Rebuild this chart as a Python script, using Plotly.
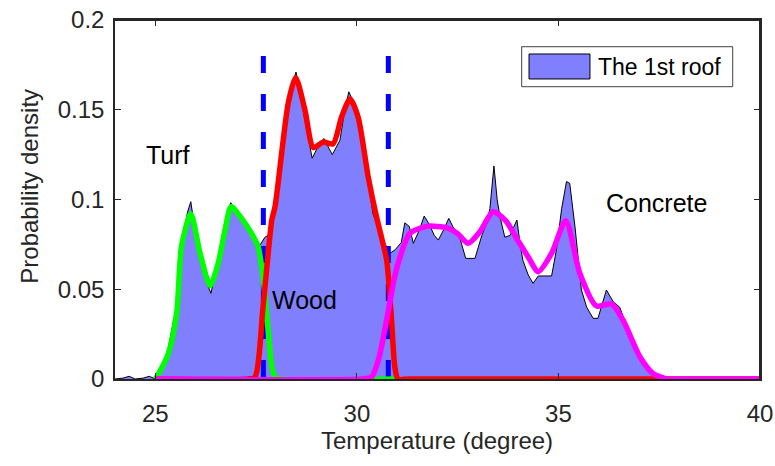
import plotly.graph_objects as go

# ---- data ----
hist_x = [24.0, 24.2, 24.35, 24.5, 24.7, 24.85, 25.0, 25.1, 25.3, 25.5, 25.65, 25.8, 25.88, 25.95,
          26.1, 26.25, 26.38, 26.5, 26.7, 26.87, 27.0, 27.2, 27.43, 27.6, 27.72, 27.8, 28.0, 28.2,
          28.35, 28.49, 28.6, 28.75, 28.89, 29.05, 29.18, 29.39, 29.5, 29.58, 29.7, 29.8, 29.9,
          30.05, 30.2, 30.4, 30.61, 30.73, 30.82, 30.95, 31.1, 31.19, 31.3, 31.4, 31.55, 31.67,
          31.8, 31.92, 32.02, 32.15, 32.28, 32.4, 32.51, 32.6, 32.7, 32.93, 33.1, 33.22, 33.3,
          33.4, 33.48, 33.55, 33.67, 33.8, 33.97, 34.05, 34.12, 34.25, 34.37, 34.5, 34.83, 34.95,
          35.08, 35.2, 35.28, 35.41, 35.57, 35.7, 35.86, 35.98, 36.1, 36.19, 36.36, 36.52, 36.65,
          36.77, 37.0, 37.27, 37.5, 37.8, 40.0]
hist_y = [0.0, 0.0005, 0.0015, 0.0, 0.0005, 0.0015, 0.0, 0.002, 0.015, 0.038, 0.075, 0.093, 0.0988, 0.088,
          0.068, 0.055, 0.0477, 0.060, 0.085, 0.0982, 0.094, 0.087, 0.0784, 0.0747, 0.079, 0.080, 0.098, 0.135,
          0.160, 0.171, 0.158, 0.140, 0.123, 0.130, 0.134, 0.125, 0.130, 0.133, 0.150, 0.160, 0.155,
          0.140, 0.122, 0.092, 0.079, 0.074, 0.070, 0.072, 0.076, 0.087, 0.085, 0.0756, 0.083, 0.0908,
          0.086, 0.080, 0.0774, 0.083, 0.0895, 0.084, 0.082, 0.075, 0.0672, 0.0672, 0.080, 0.0867, 0.095,
          0.1187, 0.100, 0.0904, 0.079, 0.080, 0.0886, 0.075, 0.066, 0.058, 0.0533, 0.0574, 0.0574, 0.0719,
          0.095, 0.110, 0.109, 0.0849, 0.0496, 0.040, 0.0338, 0.0338, 0.043, 0.0496, 0.043, 0.040, 0.032,
          0.0236, 0.0124, 0.005, 0.0013, 0.0, 0.0]

turf_x = [25.0, 25.03, 25.32, 25.53, 25.65, 25.88, 26.11, 26.36, 26.56, 26.73, 26.88, 27.14, 27.39,
          27.55, 27.68, 27.8, 27.89, 27.97, 28.1, 31.0]
turf_y = [0.0, 0.001, 0.014, 0.037, 0.074, 0.092, 0.070, 0.052, 0.0645, 0.083, 0.096, 0.0895, 0.081,
          0.0737, 0.055, 0.027, 0.007, 0.001, 0.0, 0.0]

wood_x = [25.0, 27.3, 27.47, 27.68, 27.89, 27.97, 28.3, 28.48, 28.71, 28.92, 29.17, 29.41, 29.62,
          29.83, 30.03, 30.28, 30.49, 30.61, 30.74, 30.86, 30.94, 31.02, 31.3, 40.0]
wood_y = [0.0, 0.0, 0.001, 0.042, 0.0886, 0.096, 0.154, 0.168, 0.150, 0.129, 0.132, 0.131, 0.146,
          0.156, 0.146, 0.1127, 0.090, 0.079, 0.066, 0.033, 0.007, 0.0, 0.0, 0.0]

concrete_x = [25.0, 30.1, 30.36, 30.55, 30.74, 30.98, 31.31, 31.73, 32.0, 32.27, 32.5, 32.76, 33.05,
              33.38, 33.7, 33.96, 34.25, 34.5, 34.83, 35.18, 35.53, 35.94, 36.32, 36.6, 37.02, 37.35,
              37.7, 38.0, 40.0]
concrete_y = [0.0, 0.0, 0.001, 0.012, 0.033, 0.061, 0.081, 0.085, 0.085, 0.084, 0.081, 0.0756, 0.082,
              0.0932, 0.088, 0.0784, 0.068, 0.0598, 0.070, 0.0882, 0.0589, 0.0407, 0.0418, 0.0329, 0.0124, 0.003,
              0.0, 0.0, 0.0]

boundaries = [27.68, 30.78]
boundary_top = 0.18

labels = ["Turf", "Wood", "Concrete"]
label_x = [25.31, 28.69, 37.43]
label_y = [0.1248, 0.044, 0.098]

x_ticks = [25, 30, 35, 40]
y_ticks = [0, 0.05, 0.1, 0.15, 0.2]
y_ticktext = ["0", "0.05", "0.1", "0.15", "0.2"]

legend_label = "The 1st roof"
x_title = "Temperature (degree)"
y_title = "Probability density"

# ---- figure ----
FONT = "Arial, Liberation Sans, sans-serif"
TXT = "#262626"
fig = go.Figure()

fig.add_trace(go.Scatter(x=hist_x, y=hist_y, mode="lines", fill="tozeroy",
                         fillcolor="#8080FF", line=dict(color="black", width=1),
                         name=legend_label, showlegend=False))

for b in boundaries:
    fig.add_trace(go.Scatter(x=[b, b], y=[boundary_top, 0], mode="lines",
                             line=dict(color="#0000FF", width=5, dash="17px,21px"),
                             showlegend=False))

for xs, ys, col in [(turf_x, turf_y, "#00FF00"), (wood_x, wood_y, "#FF0000"),
                    (concrete_x, concrete_y, "#FF00FF")]:
    fig.add_trace(go.Scatter(x=xs, y=ys, mode="lines",
                             line=dict(color=col, width=5.5, shape="spline", smoothing=0.7),
                             showlegend=False))

for t, lx, ly in zip(labels, label_x, label_y):
    fig.add_annotation(x=lx, y=ly, text=t, showarrow=False,
                       font=dict(family=FONT, size=25, color="black"))

# axes box (top and right edges of the frame)
fig.add_shape(type="line", xref="paper", yref="paper", x0=0, x1=1, y0=1, y1=1,
              line=dict(color=TXT, width=2), layer="above")
fig.add_shape(type="line", xref="paper", yref="paper", x0=1, x1=1, y0=0, y1=1,
              line=dict(color=TXT, width=2), layer="above")

# manual legend
fig.add_shape(type="rect", xref="paper", yref="paper", x0=0.6305, x1=0.9577, y0=0.8142, y1=0.9256,
              line=dict(color="#404040", width=1), fillcolor="white", layer="above")
fig.add_shape(type="rect", xref="paper", yref="paper", x0=0.6419, x1=0.7364, y0=0.8357, y1=0.9053,
              line=dict(color="black", width=1), fillcolor="#8080FF", layer="above")
fig.add_annotation(xref="paper", yref="paper", x=0.7457, y=0.870, xanchor="left", yanchor="middle",
                   text=legend_label, showarrow=False,
                   font=dict(family=FONT, size=23, color="black"))

# axis titles
fig.add_annotation(xref="paper", yref="paper", x=0.499, y=-0.170, text=x_title, showarrow=False,
                   xanchor="center", yanchor="middle", font=dict(family=FONT, size=24, color=TXT))
fig.add_annotation(xref="paper", yref="paper", x=-0.132, y=0.538, text=y_title, showarrow=False,
                   textangle=-90, xanchor="center", yanchor="middle",
                   font=dict(family=FONT, size=24, color=TXT))

axis_common = dict(showline=True, linecolor=TXT, linewidth=1.5, mirror="allticks",
                   ticks="inside", ticklen=6, tickcolor=TXT, showgrid=False, zeroline=False,
                   automargin=False, tickfont=dict(family=FONT, size=24, color=TXT))

fig.update_xaxes(range=[24, 40], tickvals=x_ticks, ticklabelstandoff=12, **axis_common)
fig.update_yaxes(range=[0, 0.2], tickvals=y_ticks, ticktext=y_ticktext, ticklabelstandoff=4,
                 **axis_common)

fig.update_layout(width=775, height=466, margin=dict(l=115, r=15, t=20, b=87),
                  paper_bgcolor="white", plot_bgcolor="white", showlegend=False)

fig.write_html("out.html", config={"displayModeBar": False},
               post_script="document.body.style.margin='0';document.body.style.overflow='hidden';")
